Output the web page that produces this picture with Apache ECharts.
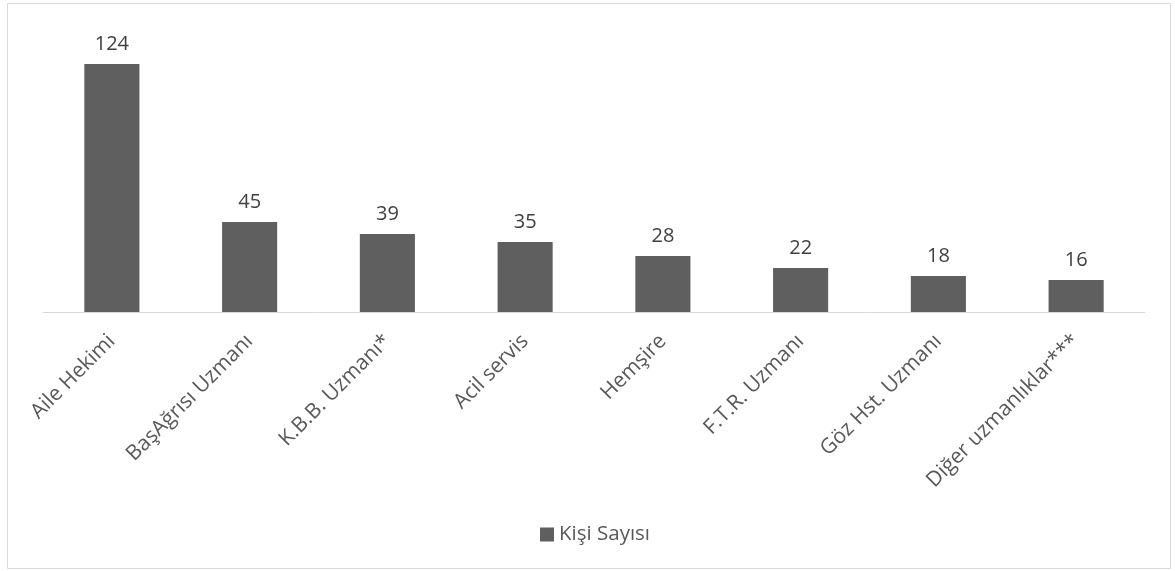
<!DOCTYPE html>
<html>
<head>
<meta charset="utf-8">
<script src="https://cdn.jsdelivr.net/npm/echarts@6/dist/echarts.min.js"></script>
<style>
html,body{margin:0;padding:0;background:#fff;}
#c{width:1175px;height:571px;}
</style>
</head>
<body>
<div id="c"></div>
<script>
const categories = ['Aile Hekimi','BaşAğrısı Uzmanı','K.B.B. Uzmanı*','Acil servis','Hemşire','F.T.R. Uzmanı','Göz Hst. Uzmanı','Diğer uzmanlıklar***'];
const values = [124, 45, 39, 35, 28, 22, 18, 16];
const seriesName = 'Kişi Sayısı';

const FONT = '"Open Sans", "Liberation Sans", sans-serif';
const chart = echarts.init(document.getElementById('c'), null, {renderer:'canvas'});
chart.setOption({
  animation: false,
  backgroundColor: '#fff',
  graphic: [{
    type: 'rect', silent: true,
    shape: {x: 7.5, y: 3.5, width: 1163, height: 565},
    style: {fill: 'none', stroke: '#d9d9d9', lineWidth: 1}
  }],
  grid: {left: 43, right: 30, top: 32, bottom: 259, containLabel: false},
  legend: {
    data: [seriesName],
    bottom: 21, left: 535,
    itemWidth: 14, itemHeight: 14, itemGap: 10,
    icon: 'rect',
    textStyle: {fontFamily: FONT, fontSize: 20.5, color: '#595959'}
  },
  xAxis: {
    type: 'category',
    data: categories,
    axisLine: {show: true, lineStyle: {color: '#d9d9d9', width: 1}},
    axisTick: {show: false},
    axisLabel: {rotate: 45, interval: 0, margin: 26, fontFamily: FONT, fontSize: 21, color: '#595959'}
  },
  yAxis: {
    type: 'value', min: 0, max: 140, interval: 20,
    show: false
  },
  series: [{
    name: seriesName,
    type: 'bar',
    data: values,
    barWidth: '40%',
    itemStyle: {color: '#5f5f5f'},
    label: {show: true, position: 'top', distance: 10, fontFamily: FONT, fontSize: 20, color: '#404040'}
  }]
});
</script>
</body>
</html>
